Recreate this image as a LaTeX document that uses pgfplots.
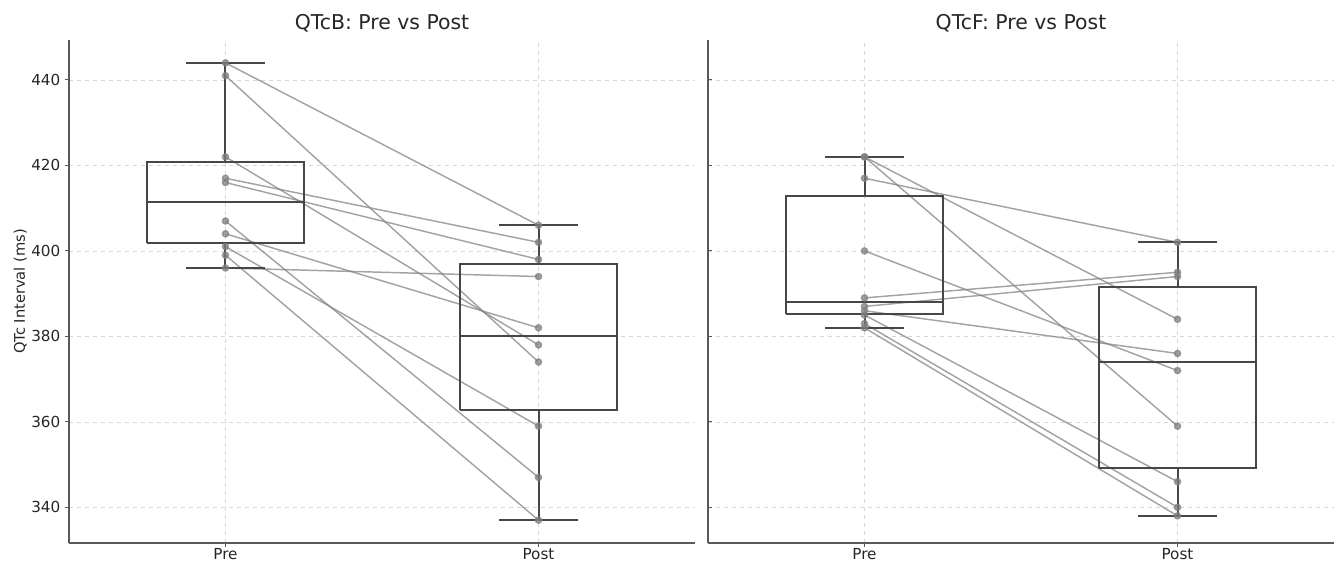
\documentclass[border=0pt]{standalone}
\usepackage{fontspec}
\setmainfont{DejaVu Sans}
\usepackage{pgfplots}
\pgfplotsset{compat=1.18}
\pgfplotsset{
  panel/.style={
    scale only axis, width=469.5pt, height=377.25pt,
    xmin=0.5, xmax=2.5, ymin=331.65, ymax=449.35,
    xtick={1,2}, xticklabels={Pre,Post},
    ytick={340,360,380,400,420,440},
    axis x line*=bottom, axis y line*=left,
    axis line style={black!65, line width=1.1pt},
    grid=major,
    grid style={dashed, black!16, line width=0.5pt},
    tick style={black!65, line width=0.8pt},
    major tick length=3pt,
    tick align=outside,
    /pgf/number format/assume math mode=true,
    ticklabel style={font=\fontsize{11.4}{13}\selectfont, text=black!85},
    xticklabel style={yshift=2.6pt},
    title style={font=\fontsize{15.3}{18}\selectfont, text=black!85,
      at={(axis description cs:0.5,1)}, anchor=base, yshift=1.5pt},
  },
  pair/.style={color=gray, opacity=0.72, line width=1.1pt,
    mark=*, mark size=2.3pt, mark options={fill=gray, draw=gray, solid}},
  boxst/.style={draw=black!72, line width=1.5pt, solid, mark=none},
}
\begin{document}
\begin{tikzpicture}
\useasboundingbox (-51.75pt,-15pt) rectangle (950.25pt,407.25pt);
% ---------------- QTcB ----------------
\begin{axis}[panel, at={(0pt,0pt)}, anchor=south west,
  title={QTcB: Pre vs Post},
  ylabel={QTc Interval (ms)},
  every axis y label/.style={at={(axis description cs:-0.078,0.5)}, rotate=90, anchor=center,
    font=\fontsize{11}{13}\selectfont, text=black!85},
]
\addplot[pair] coordinates {(1,444) (2,406)};
\addplot[pair] coordinates {(1,441) (2,374)};
\addplot[pair] coordinates {(1,422) (2,378)};
\addplot[pair] coordinates {(1,417) (2,402)};
\addplot[pair] coordinates {(1,416) (2,398)};
\addplot[pair] coordinates {(1,407) (2,347)};
\addplot[pair] coordinates {(1,404) (2,382)};
\addplot[pair] coordinates {(1,401) (2,359)};
\addplot[pair] coordinates {(1,399) (2,337)};
\addplot[pair] coordinates {(1,396) (2,394)};
% Pre box: whiskers 396/444, quartiles 401.75/420.75, median 411.5
\addplot[boxst] coordinates {(0.75,401.75) (1.25,401.75) (1.25,420.75) (0.75,420.75) (0.75,401.75)};
\addplot[boxst] coordinates {(0.75,411.5) (1.25,411.5)};
\addplot[boxst] coordinates {(1,420.75) (1,444)};
\addplot[boxst] coordinates {(1,401.75) (1,396)};
\addplot[boxst] coordinates {(0.875,444) (1.125,444)};
\addplot[boxst] coordinates {(0.875,396) (1.125,396)};
% Post box: whiskers 337/406, quartiles 362.75/397, median 380
\addplot[boxst] coordinates {(1.75,362.75) (2.25,362.75) (2.25,397) (1.75,397) (1.75,362.75)};
\addplot[boxst] coordinates {(1.75,380) (2.25,380)};
\addplot[boxst] coordinates {(2,397) (2,406)};
\addplot[boxst] coordinates {(2,362.75) (2,337)};
\addplot[boxst] coordinates {(1.875,406) (2.125,406)};
\addplot[boxst] coordinates {(1.875,337) (2.125,337)};
\end{axis}
% ---------------- QTcF ----------------
\begin{axis}[panel, at={(479.25pt,0pt)}, anchor=south west,
  title={QTcF: Pre vs Post},
  yticklabels={}, ytick align=inside,
]
\addplot[pair] coordinates {(1,422) (2,384)};
\addplot[pair] coordinates {(1,422) (2,359)};
\addplot[pair] coordinates {(1,417) (2,402)};
\addplot[pair] coordinates {(1,400) (2,372)};
\addplot[pair] coordinates {(1,389) (2,395)};
\addplot[pair] coordinates {(1,387) (2,394)};
\addplot[pair] coordinates {(1,386) (2,376)};
\addplot[pair] coordinates {(1,385) (2,346)};
\addplot[pair] coordinates {(1,383) (2,340)};
\addplot[pair] coordinates {(1,382) (2,338)};
% Pre box: whiskers 382/422, quartiles 385.25/412.75, median 388
\addplot[boxst] coordinates {(0.75,385.25) (1.25,385.25) (1.25,412.75) (0.75,412.75) (0.75,385.25)};
\addplot[boxst] coordinates {(0.75,388) (1.25,388)};
\addplot[boxst] coordinates {(1,412.75) (1,422)};
\addplot[boxst] coordinates {(1,385.25) (1,382)};
\addplot[boxst] coordinates {(0.875,422) (1.125,422)};
\addplot[boxst] coordinates {(0.875,382) (1.125,382)};
% Post box: whiskers 338/402, quartiles 349.25/391.5, median 374
\addplot[boxst] coordinates {(1.75,349.25) (2.25,349.25) (2.25,391.5) (1.75,391.5) (1.75,349.25)};
\addplot[boxst] coordinates {(1.75,374) (2.25,374)};
\addplot[boxst] coordinates {(2,391.5) (2,402)};
\addplot[boxst] coordinates {(2,349.25) (2,338)};
\addplot[boxst] coordinates {(1.875,402) (2.125,402)};
\addplot[boxst] coordinates {(1.875,338) (2.125,338)};
\end{axis}
\end{tikzpicture}
\end{document}
